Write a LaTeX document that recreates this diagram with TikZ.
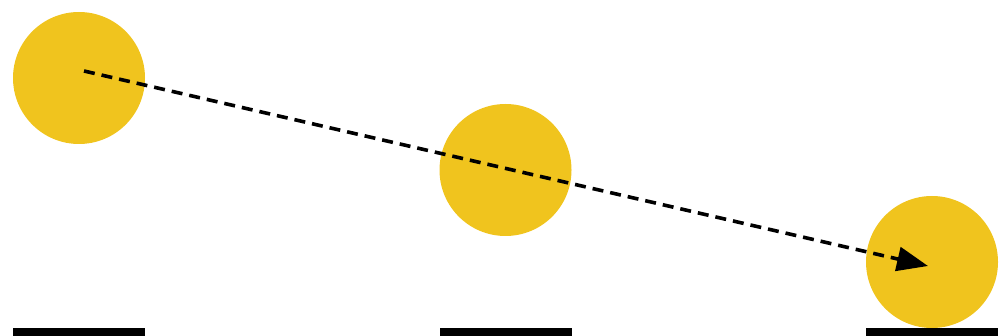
\documentclass[tikz,border=0pt]{standalone}
\usetikzlibrary{arrows.meta}
\definecolor{ball}{RGB}{240,196,30}
\tikzset{
  ballnode/.style={circle,fill=ball,draw=none,minimum size=132pt,inner sep=0pt},
  barnode/.style={rectangle,fill=black,draw=none,minimum width=132pt,minimum height=8pt,inner sep=0pt},
  pathline/.style={line width=3.6pt,dash pattern=on 11pt off 7pt,-{Triangle[length=31pt,width=24pt]}}
}
\begin{document}
\begin{tikzpicture}[x=1pt,y=-1pt]
\useasboundingbox (0,0) rectangle (1001,336);
\node[ballnode] (b1) at (79,78) {};
\node[ballnode] (b2) at (505.5,170) {};
\node[ballnode] (b3) at (932,262) {};
\node[barnode] (g1) at (79,332) {};
\node[barnode] (g2) at (505.5,332) {};
\node[barnode] (g3) at (932,332) {};
\coordinate (s) at (84,71);
\coordinate (e) at (928,266);
\draw[pathline] (s) -- (e);
\end{tikzpicture}
\end{document}
